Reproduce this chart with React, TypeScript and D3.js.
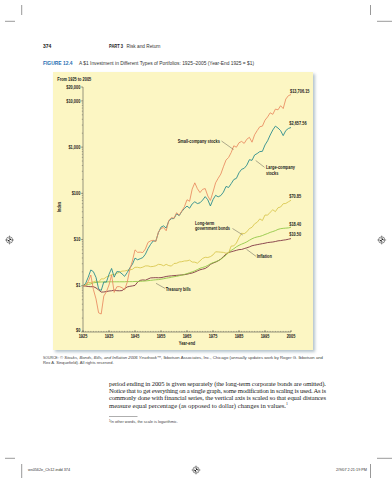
import React from 'react';
import * as d3 from 'd3';

// year-end index values, $1 invested at year-end 1925
const years = d3.range(1925, 2006);

const smallCompany = [
  1.00, 1.00, 1.23, 1.71, 0.83, 0.52, 0.26, 0.245, 0.60, 0.74,
  1.04, 1.71, 0.72, 0.95, 0.96, 0.91, 0.82, 1.19, 2.24, 3.45,
  5.99, 5.29, 5.34, 5.23, 6.26, 8.69, 9.36, 9.65, 9.02, 14.5,
  17.4, 18.2, 15.5, 25.6, 29.8, 28.9, 38.1, 33.6, 41.5, 51.2,
  72.6, 67.5, 124, 169, 126, 104, 122, 127, 87.7, 70.2,
  107, 169, 212, 261, 375, 525, 597, 765, 1068, 997,
  1243, 1328, 1204, 1480, 1630, 1279, 1850, 2282, 2761, 2847,
  3828, 4502, 5528, 5124, 6650, 6411, 7871, 6826, 10969, 12986,
  13706.15
];

const largeCompany = [
  1.00, 1.12, 1.53, 2.20, 2.02, 1.52, 0.86, 0.79, 1.21, 1.20,
  1.77, 2.37, 1.54, 2.02, 2.01, 1.81, 1.60, 1.93, 2.43, 2.91,
  3.97, 3.65, 3.85, 4.07, 4.83, 6.36, 7.89, 9.34, 9.25, 14.1,
  18.6, 19.8, 17.7, 25.3, 28.3, 28.5, 36.1, 33.0, 40.5, 47.1,
  53.0, 47.7, 59.1, 65.7, 60.1, 62.5, 71.4, 85.0, 72.5, 53.3,
  73.2, 90.6, 84.1, 89.6, 106, 141, 134, 162, 199, 211,
  279, 331, 348, 407, 535, 518, 676, 727, 800, 811,
  1114, 1371, 1828, 2351, 2845, 2586, 2279, 1775, 2284, 2533,
  2657.56
];

const govBonds = [
  1.00, 1.08, 1.17, 1.18, 1.22, 1.27, 1.20, 1.41, 1.41, 1.55,
  1.62, 1.75, 1.75, 1.85, 1.96, 2.08, 2.09, 2.16, 2.21, 2.27,
  2.51, 2.51, 2.44, 2.53, 2.69, 2.69, 2.59, 2.62, 2.71, 2.91,
  2.87, 2.71, 2.91, 2.73, 2.67, 3.04, 3.07, 3.28, 3.32, 3.44,
  3.46, 3.59, 3.26, 3.25, 3.08, 3.46, 3.91, 4.14, 4.09, 4.27,
  4.66, 5.44, 5.40, 5.34, 5.28, 5.07, 5.16, 7.24, 7.29, 8.42,
  11.0, 13.7, 13.4, 14.7, 17.3, 18.4, 21.9, 23.7, 28.0, 25.8,
  34.0, 33.7, 39.0, 44.1, 40.2, 48.8, 50.6, 59.6, 60.5, 65.6,
  70.85
];

const tBills = [
  1.00, 1.03, 1.07, 1.10, 1.16, 1.18, 1.20, 1.21, 1.21, 1.21,
  1.22, 1.22, 1.22, 1.22, 1.22, 1.22, 1.22, 1.23, 1.23, 1.23,
  1.24, 1.24, 1.25, 1.26, 1.27, 1.29, 1.31, 1.33, 1.35, 1.36,
  1.39, 1.42, 1.46, 1.49, 1.53, 1.57, 1.60, 1.65, 1.70, 1.76,
  1.83, 1.92, 2.00, 2.10, 2.24, 2.39, 2.49, 2.59, 2.76, 2.99,
  3.16, 3.32, 3.49, 3.74, 4.13, 4.59, 5.27, 5.82, 6.33, 6.96,
  7.50, 7.96, 8.39, 8.93, 9.67, 10.4, 11.0, 11.4, 11.7, 12.2,
  12.9, 13.5, 14.3, 14.9, 15.6, 16.6, 17.2, 17.5, 17.7, 17.9,
  18.40
];

const inflation = [
  1.00, 0.985, 0.965, 0.955, 0.957, 0.899, 0.814, 0.730, 0.734, 0.749,
  0.771, 0.780, 0.805, 0.782, 0.779, 0.786, 0.863, 0.943, 0.973, 0.993,
  1.02, 1.20, 1.31, 1.34, 1.32, 1.40, 1.48, 1.49, 1.50, 1.49,
  1.50, 1.54, 1.59, 1.62, 1.64, 1.66, 1.68, 1.70, 1.72, 1.74,
  1.78, 1.84, 1.89, 1.98, 2.10, 2.22, 2.29, 2.37, 2.58, 2.90,
  3.10, 3.25, 3.47, 3.78, 4.29, 4.82, 5.25, 5.44, 5.64, 5.85,
  6.06, 6.11, 6.37, 6.64, 6.94, 7.35, 7.56, 7.76, 7.96, 8.16,
  8.35, 8.61, 8.74, 8.86, 9.08, 9.38, 9.50, 9.71, 9.88, 10.17,
  10.50
];

const yTickValues = [0.1, 1, 10, 100, 1000, 10000, 20000];
const yTickLabels = ['$0', '$1', '$10', '$100', '$1,000', '$10,000', '$20,000'];
const xTickYears = [1925, 1935, 1945, 1955, 1965, 1975, 1985, 1995, 2005];

const series = [
  { name: 'small', values: smallCompany, color: '#e8895e' },
  { name: 'large', values: largeCompany, color: '#21878a' },
  { name: 'bonds', values: govBonds, color: '#d8c54c' },
  { name: 'bills', values: tBills, color: '#8cc540' },
  { name: 'inflation', values: inflation, color: '#7a2c3c' },
];

const plain = "'Liberation Sans', Arial, sans-serif";
const serif = "'Liberation Serif', 'Times New Roman', serif";

// condensed bold label (no narrow face installed, so squeeze horizontally)
const CText: React.FC<{ x: number; y: number; anchor?: string; children: React.ReactNode }> = ({ x, y, anchor = 'start', children }) => (
  <text
    transform={`translate(${x},${y}) scale(0.78,1)`}
    textAnchor={anchor}
    fontFamily={plain}
    fontWeight={700}
    fontSize={5}
    fill="#1a1a1a"
  >
    {children}
  </text>
);

const RegMark: React.FC<{ x: number; y: number }> = ({ x, y }) => (
  <g transform={`translate(${x},${y})`}>
    <circle r={3.2} fill="none" stroke="#222" strokeWidth={0.5} />
    <circle r={1.8} fill="#222" />
    <line x1={-4.5} x2={4.5} y1={0} y2={0} stroke="#222" strokeWidth={0.4} />
    <line x1={0} x2={0} y1={-4.5} y2={4.5} stroke="#222" strokeWidth={0.4} />
    <path d="M0,0 L1.8,0 A1.8,1.8 0 0 1 0,1.8 Z M0,0 L-1.8,0 A1.8,1.8 0 0 1 0,-1.8 Z" fill="#fff" />
  </g>
);

const App: React.FC = () => {
  const x = d3.scaleLinear().domain([1925, 2005]).range([83, 291]);
  const y = d3.scaleLog().domain([0.1, 20000]).range([332, 87]);

  const line = d3.line<number>()
    .x((_, i) => x(years[i]))
    .y(d => y(d));

  // minor ticks on the log axis
  const minorY: number[] = [];
  for (let e = -1; e <= 4; e++) {
    for (let k = 2; k <= 9; k++) {
      const v = k * Math.pow(10, e);
      if (v < 20000) minorY.push(v);
    }
  }

  return (
    <svg width={392} height={480} style={{ position: 'absolute', left: 0, top: 0, background: '#fff' }}>
      <defs>
        <filter id="shadow" x="-10%" y="-10%" width="120%" height="120%">
          <feGaussianBlur stdDeviation="1.5" />
        </filter>
      </defs>

      {/* crop marks */}
      <g stroke="#333" strokeWidth={0.5}>
        <line x1={21.7} x2={21.7} y1={5} y2={15} />
        <line x1={5} x2={15} y1={21.3} y2={21.3} />
        <line x1={370.5} x2={370.5} y1={5} y2={15} />
        <line x1={377} x2={392} y1={21.3} y2={21.3} />
        <line x1={5} x2={15} y1={458.3} y2={458.3} />
        <line x1={377} x2={392} y1={458.3} y2={458.3} />
        <line x1={21.7} x2={21.7} y1={464} y2={478} />
        <line x1={370.5} x2={370.5} y1={464} y2={478} />
      </g>
      <RegMark x={9.5} y={240} />
      <RegMark x={381.7} y={240} />
      <RegMark x={196} y={470} />

      {/* running head */}
      <text x={43} y={47.8} fontFamily={plain} fontWeight={700} fontSize={5} fill="#222">374</text>
      <text x={109} y={47.8} fontFamily={plain} fontWeight={700} fontSize={4.8} fill="#222" textLength={14} lengthAdjust="spacingAndGlyphs">PART 3</text>
      <text x={126.5} y={47.8} fontFamily={plain} fontSize={4.8} fill="#333" textLength={34} lengthAdjust="spacingAndGlyphs">Risk and Return</text>

      {/* figure caption */}
      <text x={43} y={65} fontFamily={plain} fontWeight={700} fontSize={5} fill="#1f6fb2" textLength={29.5} lengthAdjust="spacingAndGlyphs">FIGURE 12.4</text>
      <text x={79} y={65} fontFamily={plain} fontSize={4.8} fill="#333" textLength={175} lengthAdjust="spacingAndGlyphs">
        A $1 Investment in Different Types of Portfolios: 1925–2005 (Year-End 1925 = $1)
      </text>

      {/* chart panel */}
      <rect x={55} y={74} width={260} height={278} fill="#b4c2cc" filter="url(#shadow)" />
      <rect x={53} y={72} width={260} height={278} fill="#fcf6c3" />

      <CText x={57.3} y={80.7}>From 1925 to 2005</CText>

      {/* y axis */}
      <line x1={83} x2={83} y1={y(20000)} y2={y(0.1)} stroke="#333" strokeWidth={0.5} />
      {minorY.map(v => (
        <line key={`my${v}`} x1={81.8} x2={83} y1={y(v)} y2={y(v)} stroke="#444" strokeWidth={0.35} />
      ))}
      {yTickValues.map((v, i) => (
        <g key={`y${v}`}>
          <line x1={81} x2={83} y1={y(v)} y2={y(v)} stroke="#333" strokeWidth={0.45} />
          <CText x={80.3} y={y(v) + (v === 0.1 ? 0.3 : 1.7)} anchor="end">{yTickLabels[i]}</CText>
        </g>
      ))}
      <text transform={`translate(60.8,207) rotate(-90) scale(0.78,1)`} textAnchor="middle" fontFamily={plain} fontWeight={700} fontSize={5} fill="#1a1a1a">Index</text>

      {/* x axis */}
      <line x1={x(1925)} x2={x(2005)} y1={332} y2={332} stroke="#333" strokeWidth={0.5} />
      {years.map(yr => (
        <line key={`mx${yr}`} x1={x(yr)} x2={x(yr)} y1={332} y2={330.9} stroke="#444" strokeWidth={0.35} />
      ))}
      {xTickYears.map(yr => (
        <g key={`x${yr}`}>
          <line x1={x(yr)} x2={x(yr)} y1={332} y2={330} stroke="#333" strokeWidth={0.45} />
          <CText x={x(yr)} y={338} anchor="middle">{yr}</CText>
        </g>
      ))}
      <CText x={187} y={345} anchor="middle">Year-end</CText>

      {/* series */}
      {series.slice().reverse().map(s => (
        <path key={s.name} d={line(s.values) || ''} fill="none" stroke={s.color} strokeWidth={0.85} strokeLinejoin="round" />
      ))}

      {/* end values */}
      <CText x={290} y={92.6}>$13,706.15</CText>
      <CText x={289.3} y={125.1}>$2,657.56</CText>
      <CText x={289.3} y={197.8}>$70.85</CText>
      <CText x={289.3} y={225.8}>$18.40</CText>
      <CText x={289.3} y={235.8}>$10.50</CText>

      {/* series labels + leaders */}
      <g stroke="#333" strokeWidth={0.4}>
        <line x1={221.5} y1={141} x2={233.5} y2={149.5} />
        <line x1={255.7} y1={160.5} x2={264.5} y2={167.3} />
        <line x1={232.5} y1={228.5} x2={242.8} y2={235} />
        <line x1={246.5} y1={249.3} x2={256} y2={256.3} />
        <line x1={156} y1={283.3} x2={165.2} y2={288.5} />
      </g>
      <CText x={177.7} y={142.5}>Small-company stocks</CText>
      <CText x={266} y={169}>Large-company</CText>
      <CText x={266} y={174.6}>stocks</CText>
      <CText x={195} y={225}>Long-term</CText>
      <CText x={195} y={230.4}>government bonds</CText>
      <CText x={256.7} y={258.4}>Inflation</CText>
      <CText x={165.7} y={290.8}>Treasury bills</CText>

      {/* source line */}
      <text x={43} y={359.4} fontFamily={plain} fontSize={4.1} fill="#444" textLength={280} lengthAdjust="spacingAndGlyphs">
        <tspan fontSize={3.3}>SOURCE</tspan>: © <tspan fontStyle="italic">Stocks, Bonds, Bills, and Inflation 2006 Yearbook</tspan>™, Ibbotson Associates, Inc., Chicago (annually updates work by Roger G. Ibbotson and
      </text>
      <text x={43} y={364.4} fontFamily={plain} fontSize={4.1} fill="#444">
        Rex A. Sinquefield). All rights reserved.
      </text>

      {/* body text */}
      <g fontFamily={serif} fontSize={6.6} fill="#222">
        <text x={109} y={385.6} textLength={217} lengthAdjust="spacing">
          period ending in 2005 is given separately (the long-term corporate bonds are omitted).
        </text>
        <text x={109} y={392.9} textLength={217} lengthAdjust="spacing">
          Notice that to get everything on a single graph, some modification in scaling is used. As is
        </text>
        <text x={109} y={400.2} textLength={217} lengthAdjust="spacing">
          commonly done with financial series, the vertical axis is scaled so that equal distances
        </text>
        <text x={109} y={407.5}>
          measure equal percentage (as opposed to dollar) changes in values.<tspan fontSize={3.8} dy={-2.5}>1</tspan>
        </text>
      </g>
      <line x1={109} x2={137.5} y1={416.5} y2={416.5} stroke="#333" strokeWidth={0.4} />
      <text x={109} y={422.7} fontFamily={plain} fontSize={3.9} fill="#444">
        <tspan fontSize={2.8} dy={-1.2}>1</tspan><tspan dy={1.2}>In other words, the scale is logarithmic.</tspan>
      </text>

      {/* slug */}
      <text x={28} y={471.3} fontFamily={plain} fontSize={3.8} fill="#333">ws0562e_Ch12.indd   374</text>
      <text x={367} y={471.3} textAnchor="end" fontFamily={plain} fontSize={3.8} fill="#333">2/9/07   2:21:19 PM</text>
    </svg>
  );
};

export default App;
